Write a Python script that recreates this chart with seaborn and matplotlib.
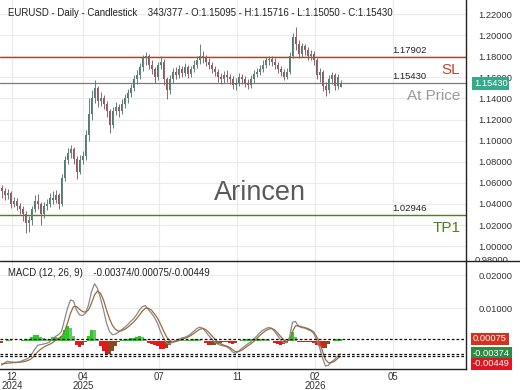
import numpy as np
import pandas as pd
import matplotlib
matplotlib.use("Agg")
import matplotlib.pyplot as plt
from matplotlib.lines import Line2D
from matplotlib.transforms import Bbox, TransformedBbox, blended_transform_factory
import seaborn as sns

# ---------------- data (3-day candles) ----------------
opens = [1.055, 1.052, 1.048, 1.050, 1.040, 1.043, 1.038, 1.035, 1.030, 1.022,
         1.025, 1.035, 1.043, 1.040, 1.030, 1.038, 1.040, 1.046, 1.044, 1.048,
         1.040, 1.065, 1.082, 1.088, 1.092, 1.083, 1.070, 1.082, 1.085, 1.105,
         1.125, 1.140, 1.150, 1.138, 1.140, 1.135, 1.128, 1.115, 1.128, 1.132,
         1.128, 1.135, 1.140, 1.145, 1.150, 1.158, 1.162, 1.170, 1.178, 1.180,
         1.172, 1.168, 1.160, 1.172, 1.175, 1.158, 1.148, 1.158, 1.165, 1.162,
         1.168, 1.164, 1.170, 1.163, 1.168, 1.172, 1.176, 1.180, 1.178, 1.175,
         1.172, 1.168, 1.165, 1.160, 1.158, 1.162, 1.160, 1.158, 1.153, 1.155,
         1.160, 1.158, 1.155, 1.153, 1.158, 1.163, 1.165, 1.168, 1.172, 1.176,
         1.177, 1.175, 1.172, 1.168, 1.165, 1.160, 1.165, 1.180, 1.198, 1.192,
         1.182, 1.190, 1.186, 1.180, 1.182, 1.176, 1.162, 1.165, 1.152, 1.148,
         1.158, 1.162, 1.152, 1.15095]
closes = [1.052, 1.048, 1.050, 1.040, 1.043, 1.038, 1.035, 1.030, 1.022, 1.025,
          1.035, 1.043, 1.040, 1.030, 1.038, 1.040, 1.046, 1.044, 1.048, 1.040,
          1.065, 1.082, 1.088, 1.092, 1.083, 1.070, 1.082, 1.085, 1.105, 1.125,
          1.140, 1.150, 1.138, 1.140, 1.135, 1.128, 1.115, 1.128, 1.132, 1.128,
          1.135, 1.140, 1.145, 1.150, 1.158, 1.162, 1.170, 1.178, 1.180, 1.172,
          1.168, 1.160, 1.172, 1.175, 1.158, 1.148, 1.158, 1.165, 1.162, 1.168,
          1.164, 1.170, 1.163, 1.168, 1.172, 1.176, 1.180, 1.178, 1.175, 1.172,
          1.168, 1.165, 1.160, 1.158, 1.162, 1.160, 1.158, 1.153, 1.155, 1.160,
          1.158, 1.155, 1.153, 1.158, 1.163, 1.165, 1.168, 1.172, 1.176, 1.177,
          1.175, 1.172, 1.168, 1.165, 1.160, 1.165, 1.180, 1.198, 1.192, 1.182,
          1.190, 1.186, 1.180, 1.182, 1.176, 1.162, 1.165, 1.152, 1.148, 1.158,
          1.162, 1.152, 1.160, 1.15430]
highs = [1.058, 1.055, 1.054, 1.052, 1.047, 1.046, 1.041, 1.038, 1.033, 1.029,
         1.038, 1.048, 1.049, 1.042, 1.042, 1.045, 1.050, 1.052, 1.053, 1.050,
         1.068, 1.085, 1.093, 1.096, 1.094, 1.085, 1.086, 1.090, 1.110, 1.140,
         1.148, 1.157, 1.152, 1.146, 1.143, 1.138, 1.130, 1.132, 1.137, 1.135,
         1.139, 1.144, 1.149, 1.154, 1.162, 1.167, 1.174, 1.181, 1.184, 1.182,
         1.176, 1.170, 1.175, 1.180, 1.177, 1.160, 1.162, 1.169, 1.170, 1.172,
         1.171, 1.174, 1.172, 1.171, 1.176, 1.180, 1.192, 1.185, 1.181, 1.178,
         1.175, 1.171, 1.168, 1.164, 1.166, 1.167, 1.163, 1.161, 1.159, 1.164,
         1.163, 1.161, 1.158, 1.162, 1.167, 1.169, 1.172, 1.176, 1.179, 1.180,
         1.180, 1.178, 1.175, 1.171, 1.168, 1.169, 1.184, 1.202, 1.208, 1.195,
         1.193, 1.192, 1.189, 1.186, 1.185, 1.178, 1.169, 1.167, 1.156, 1.162,
         1.165, 1.164, 1.163, 1.15716]
lows = [1.046, 1.044, 1.045, 1.036, 1.037, 1.034, 1.030, 1.024, 1.012, 1.013,
        1.020, 1.032, 1.035, 1.020, 1.027, 1.034, 1.037, 1.040, 1.041, 1.035,
        1.038, 1.062, 1.078, 1.084, 1.078, 1.064, 1.068, 1.078, 1.082, 1.100,
        1.120, 1.136, 1.132, 1.133, 1.130, 1.122, 1.107, 1.112, 1.124, 1.122,
        1.125, 1.131, 1.136, 1.141, 1.147, 1.154, 1.158, 1.166, 1.172, 1.168,
        1.163, 1.155, 1.157, 1.168, 1.153, 1.139, 1.144, 1.155, 1.158, 1.159,
        1.160, 1.161, 1.159, 1.160, 1.165, 1.169, 1.173, 1.174, 1.171, 1.168,
        1.164, 1.161, 1.156, 1.154, 1.155, 1.156, 1.154, 1.149, 1.148, 1.152,
        1.154, 1.151, 1.149, 1.150, 1.155, 1.160, 1.162, 1.165, 1.169, 1.172,
        1.171, 1.168, 1.164, 1.161, 1.157, 1.158, 1.163, 1.178, 1.186, 1.178,
        1.179, 1.181, 1.176, 1.176, 1.172, 1.158, 1.156, 1.147, 1.142, 1.145,
        1.154, 1.148, 1.149, 1.15050]

macd = [-0.0072, -0.0065, -0.0060, -0.0062, -0.0063, -0.0063, -0.0062, -0.0058, -0.0055, -0.0050,
        -0.0040, -0.0025, -0.0012, -0.0010, -0.0008, -0.0006, -0.0002, 0.0008, 0.0015, 0.0020,
        0.0030, 0.0065, 0.0100, 0.0125, 0.0122, 0.0095, 0.0080, 0.0078, 0.0085, 0.0110,
        0.0150, 0.0174, 0.0160, 0.0130, 0.0095, 0.0055, 0.0030, 0.0020, 0.0022, 0.0028,
        0.0035, 0.0042, 0.0050, 0.0060, 0.0068, 0.0080, 0.0095, 0.0105, 0.0108, 0.0095,
        0.0085, 0.0072, 0.0055, 0.0030, 0.0010, -0.0005, -0.0008, -0.0002, 0.0002, 0.0006,
        0.0010, 0.0012, 0.0016, 0.0022, 0.0030, 0.0038, 0.0043, 0.0040, 0.0030, 0.0018,
        0.0008, -0.0002, -0.0008, -0.0012, -0.0014, -0.0016, -0.0022, -0.0032, -0.0036, -0.0030,
        -0.0022, -0.0015, -0.0008, -0.0002, 0.0006, 0.0015, 0.0025, 0.0033, 0.0038, 0.0042,
        0.0040, 0.0030, 0.0018, 0.0005, -0.0004, -0.0004, 0.0012, 0.0058, 0.0060, 0.0045,
        0.0042, 0.0040, 0.0036, 0.0032, 0.0025, 0.0005, -0.0018, -0.0050, -0.0075, -0.0072,
        -0.0062, -0.0055, -0.0045, -0.00374]
signal = [-0.0068, -0.0067, -0.0066, -0.0065, -0.0064, -0.0064, -0.0063, -0.0062, -0.0060, -0.0057,
          -0.0052, -0.0043, -0.0032, -0.0024, -0.0018, -0.0013, -0.0009, -0.0004, 0.0003, 0.0009,
          0.0015, 0.0030, 0.0055, 0.0085, 0.0105, 0.0105, 0.0097, 0.0090, 0.0088, 0.0095,
          0.0115, 0.0140, 0.0152, 0.0145, 0.0125, 0.0095, 0.0068, 0.0048, 0.0036, 0.0031,
          0.0032, 0.0036, 0.0042, 0.0050, 0.0058, 0.0068, 0.0080, 0.0092, 0.0100, 0.0100,
          0.0094, 0.0083, 0.0070, 0.0052, 0.0032, 0.0014, 0.0003, -0.0002, -0.0001, 0.0002,
          0.0006, 0.0009, 0.0012, 0.0017, 0.0023, 0.0030, 0.0036, 0.0039, 0.0036, 0.0028,
          0.0018, 0.0008, -0.0001, -0.0007, -0.0011, -0.0014, -0.0018, -0.0025, -0.0031, -0.0031,
          -0.0027, -0.0021, -0.0014, -0.0008, -0.0001, 0.0008, 0.0017, 0.0025, 0.0032, 0.0037,
          0.0039, 0.0035, 0.0026, 0.0015, 0.0005, 0.0000, 0.0004, 0.0030, 0.0047, 0.0047,
          0.0044, 0.0042, 0.0039, 0.0035, 0.0029, 0.0015, -0.0004, -0.0030, -0.0055, -0.0065,
          -0.0064, -0.0060, -0.0052, -0.00449]

date_tick_pos = [3.5, 27.2, 52.5, 78.5, 104.5, 130.5]
date_tick_labels = ["12\n2024", "04\n2025", "07", "11", "02\n2026", "05"]
price_ticks = [0.98, 1.00, 1.02, 1.04, 1.06, 1.08, 1.10, 1.12, 1.14, 1.16, 1.18, 1.20, 1.22]
macd_ticks = [0.01, 0.02]

sl_level = 1.17902
tp_level = 1.02946
last_price = 1.15430
macd_last, hist_last, signal_last = -0.00374, 0.00075, -0.00449
title_text = "EURUSD - Daily - Candlestick    343/377 - O:1.15095 - H:1.15716 - L:1.15050 - C:1.15430"
macd_title = "MACD (12, 26, 9)    -0.00374/0.00075/-0.00449"

# ---------------- style ----------------
sns.set_theme(style="white")
plt.rcParams['font.family'] = ['Liberation Sans', 'DejaVu Sans']

df = pd.DataFrame({"i": np.arange(len(closes)), "open": opens, "close": closes,
                   "high": highs, "low": lows})
mdf = pd.DataFrame({"i": np.arange(len(macd)), "macd": macd, "signal": signal})
mdf["hist"] = mdf["macd"] - mdf["signal"]

fig = plt.figure(figsize=(5.2, 3.9), dpi=100)
ax1 = fig.add_axes([0, 0.331, 0.896, 0.669])
ax2 = fig.add_axes([0, 0.0538, 0.896, 0.2772])

grid_c = "#ebebeb"
xlim = (-0.5, 154.8)

# ---------------- price panel ----------------
up_c, dn_c = "#567a72", "#8e5860"
colors = [up_c if c >= o else dn_c for o, c in zip(df.open, df.close)]
ax1.vlines(df.i, df.low, df.high, colors=colors, linewidth=0.65, zorder=3)
body_bottom = np.minimum(df.open, df.close)
body_h = np.maximum(np.abs(df.close - df.open), 0.0008)
ax1.bar(df.i, body_h, bottom=body_bottom, width=0.55, color=colors, linewidth=0, zorder=3)

ax1.set_xlim(*xlim)
ax1.set_ylim(0.986, 1.2333)
ax1.set_xticks(date_tick_pos)
ax1.set_xticklabels([])
ax1.set_yticks(price_ticks[1:])
ax1.yaxis.tick_right()
ax1.yaxis.set_major_formatter(matplotlib.ticker.FormatStrFormatter("%.5f"))
ax1.tick_params(axis='y', length=0, pad=9, labelsize=6.7, labelcolor="#333333")
ax1.tick_params(axis='x', length=0)
ax1.grid(True, color=grid_c, linewidth=0.8, zorder=0)
for s in ["left", "top", "bottom"]:
    ax1.spines[s].set_visible(False)
ax1.spines["right"].set_color("#222222")
ax1.spines["right"].set_linewidth(1.0)

# clipped 0.98 label at bottom edge
t98 = ax1.text(1.0 + 9 / 466, 0.0, "%.5f" % price_ticks[0], transform=ax1.transAxes,
               fontsize=6.7, color="#333333", ha="left", va="center", clip_on=True)
t98.set_clip_box(TransformedBbox(Bbox([[0, 0.331], [1, 1]]), fig.transFigure))

ax1.axhline(sl_level, color="#a6452e", linewidth=1.0, zorder=2)
ax1.axhline(last_price, color="#7a7a7a", linewidth=0.9, zorder=2)
ax1.axhline(tp_level, color="#557a2c", linewidth=1.0, zorder=2)

bt = blended_transform_factory(ax1.transAxes, ax1.transData)
for lvl in (sl_level, last_price, tp_level):
    ax1.annotate("%.5f" % lvl, xy=(0.841, lvl), xycoords=bt, xytext=(0, 1.5),
                 textcoords="offset points", fontsize=6.8, color="#222222",
                 ha="left", va="bottom")

ax1.text(0.988, 0.733, "SL", transform=ax1.transAxes, fontsize=11, color="#c0462e",
         ha="right", va="center")
ax1.text(0.988, 0.632, "At Price", transform=ax1.transAxes, fontsize=11, color="#9a9a9a",
         ha="right", va="center")
ax1.text(0.988, 0.126, "TP1", transform=ax1.transAxes, fontsize=11, color="#4e7d1e",
         ha="right", va="center")
ax1.text(0.558, 0.262, "Arincen", transform=ax1.transAxes, fontsize=19.5, color="#5a5a5a",
         ha="center", va="center")
ax1.text(0.017, 0.951, title_text, transform=ax1.transAxes, fontsize=6.9, color="#222222",
         ha="left", va="center")

ax1.annotate("%.5f" % last_price, xy=(1.0 + 8 / 466, last_price), xycoords=bt,
             fontsize=6.7, color="white", ha="left", va="center", annotation_clip=False,
             bbox=dict(boxstyle="square,pad=0.18", facecolor="#36a88c", edgecolor="none"))

# ---------------- MACD panel ----------------
hist = mdf["hist"].values
hcols = []
for k, h in enumerate(hist):
    prev = hist[k - 1] if k > 0 else h
    if h >= 0:
        hcols.append("#22d022" if h >= prev else "#6cc46c")
    else:
        hcols.append("#e81818" if h < prev else "#8a4a1c")
ax2.bar(mdf.i, hist, width=1.0, color=hcols, linewidth=0, zorder=2)
sns.lineplot(data=mdf, x="i", y="macd", ax=ax2, color="#8a8a8a", linewidth=0.9, zorder=3)
sns.lineplot(data=mdf, x="i", y="signal", ax=ax2, color="#9c6a40", linewidth=0.9, zorder=3)

for v in (hist_last, macd_last, signal_last):
    ax2.axhline(v, color="#111111", linewidth=0.9, linestyle=(0, (2.2, 1.6)), zorder=4)

ax2.set_xlim(*xlim)
ax2.set_ylim(-0.00835, 0.0243)
ax2.set_xticks(date_tick_pos)
ax2.set_xticklabels(date_tick_labels, fontsize=6.9, color="#333333", linespacing=0.95)
ax2.set_yticks(macd_ticks)
ax2.yaxis.tick_right()
ax2.yaxis.set_major_formatter(matplotlib.ticker.FormatStrFormatter("%.5f"))
ax2.tick_params(axis='y', length=0, pad=9, labelsize=6.7, labelcolor="#333333")
ax2.tick_params(axis='x', length=0, pad=2)
ax2.set_xlabel("")
ax2.set_ylabel("")
ax2.grid(True, color=grid_c, linewidth=0.8, zorder=0)
for s in ["left", "top"]:
    ax2.spines[s].set_visible(False)
for s in ["right", "bottom"]:
    ax2.spines[s].set_color("#222222")
    ax2.spines[s].set_linewidth(1.0)

ax2.text(0.017, 0.888, macd_title, transform=ax2.transAxes, fontsize=6.9, color="#222222",
         ha="left", va="center")

bt2 = blended_transform_factory(ax2.transAxes, ax2.transData)
for v, fc, dy in ((hist_last, "#d8301e", 0), (macd_last, "#2f8a45", 0), (signal_last, "#e01522", -5.5)):
    ax2.annotate("%.5f" % v, xy=(1.0 + 7 / 466, v), xycoords=bt2, xytext=(0, dy),
                 textcoords="offset points", fontsize=6.7, color="white", ha="left",
                 va="center", annotation_clip=False,
                 bbox=dict(boxstyle="square,pad=0.2", facecolor=fc, edgecolor="none"))

# separator line across the full width between the panels
fig.add_artist(Line2D([0, 1], [0.331, 0.331], transform=fig.transFigure,
                      color="#222222", linewidth=1.0))

fig.savefig("out.png", dpi=100)
